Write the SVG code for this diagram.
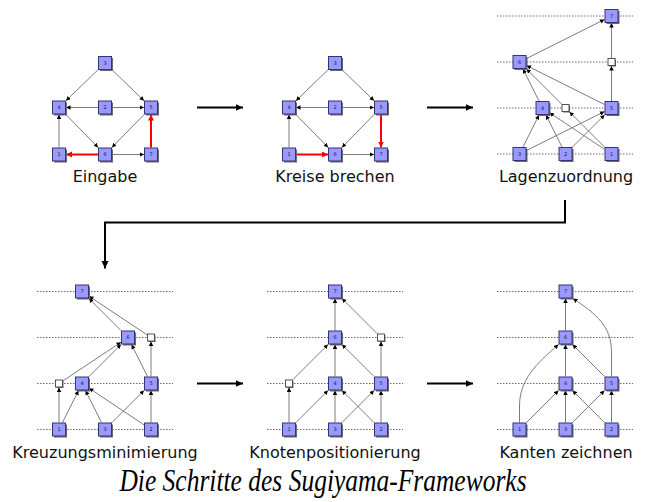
<svg xmlns="http://www.w3.org/2000/svg" width="646" height="502" viewBox="0 0 646 502">
  <style>
    .bg { fill: #ffffff; }
    .layer { stroke: #6a6a6a; stroke-width: 1; stroke-dasharray: 1.5 1.5; fill: none; }
    .e { stroke: #6e6e6e; stroke-width: 0.9; fill: none; marker-end: url(#ah); }
    .er { stroke: #ff0000; stroke-width: 2; fill: none; marker-end: url(#ahr); }
    .bigarrow { stroke: #000000; stroke-width: 2; fill: none; marker-end: url(#ahb); }
    .box { fill: #9999ff; stroke: #34346e; stroke-width: 1; }
    .shadow { fill: #6a6a6a; }
    .dummy { fill: #ffffff; stroke: #404040; stroke-width: 0.9; }
    .num { font-family: "DejaVu Sans", sans-serif; font-size: 5px; fill: #1a1a40; text-anchor: middle; }
    .label { font-family: "DejaVu Sans", sans-serif; font-size: 16px; fill: #111111; text-anchor: middle; }
    .title { font-family: "Liberation Serif", serif; font-style: italic; font-size: 25.5px; fill: #000000; text-anchor: middle; }
  </style>
  <defs>
    <marker id="ah" markerUnits="userSpaceOnUse" markerWidth="5" markerHeight="5" refX="4.5" refY="2.25" orient="auto">
      <path d="M0,0 L4.5,2.25 L0,4.5 z" fill="#000000"/>
    </marker>
    <marker id="ahr" markerUnits="userSpaceOnUse" markerWidth="7" markerHeight="7" refX="6" refY="3" orient="auto">
      <path d="M0,0 L6,3 L0,6 z" fill="#ff0000"/>
    </marker>
    <marker id="ahb" markerUnits="userSpaceOnUse" markerWidth="9" markerHeight="9" refX="7.5" refY="3.5" orient="auto">
      <path d="M0,0 L7.5,3.5 L0,7 z" fill="#000000"/>
    </marker>
    <g id="sq">
      <rect class="shadow" x="-5" y="-5" width="13" height="13"/>
      <rect class="box" x="-6.5" y="-6.5" width="13" height="13"/>
    </g>
    <g id="dm">
      <rect class="shadow" x="-2.5" y="-2.5" width="7" height="7"/>
      <rect class="dummy" x="-3.5" y="-3.5" width="7" height="7"/>
    </g>
  </defs>

  <rect class="bg" x="0" y="0" width="646" height="502"/>

  <!-- layer guide lines -->
  <g id="layers">
    <line class="layer" x1="497" y1="16" x2="633" y2="16"/>
    <line class="layer" x1="497" y1="62" x2="633" y2="62"/>
    <line class="layer" x1="497" y1="108" x2="633" y2="108"/>
    <line class="layer" x1="497" y1="154" x2="633" y2="154"/>
    <line class="layer" x1="37" y1="291.5" x2="173" y2="291.5"/>
    <line class="layer" x1="37" y1="337.5" x2="173" y2="337.5"/>
    <line class="layer" x1="37" y1="383.5" x2="173" y2="383.5"/>
    <line class="layer" x1="37" y1="429.5" x2="173" y2="429.5"/>
    <line class="layer" x1="267" y1="291.5" x2="403" y2="291.5"/>
    <line class="layer" x1="267" y1="337.5" x2="403" y2="337.5"/>
    <line class="layer" x1="267" y1="383.5" x2="403" y2="383.5"/>
    <line class="layer" x1="267" y1="429.5" x2="403" y2="429.5"/>
    <line class="layer" x1="497" y1="291.5" x2="633" y2="291.5"/>
    <line class="layer" x1="497" y1="337.5" x2="633" y2="337.5"/>
    <line class="layer" x1="497" y1="383.5" x2="633" y2="383.5"/>
    <line class="layer" x1="497" y1="429.5" x2="633" y2="429.5"/>
  </g>

  <!-- connectors -->
  <g id="connectors">
    <!-- step 1: input graph -->
    <line class="e" x1="98" y1="69.8" x2="66" y2="100.7"/>
    <line class="e" x1="112" y1="69.8" x2="144" y2="100.7"/>
    <line class="e" x1="98" y1="107.5" x2="66" y2="107.5"/>
    <line class="e" x1="112" y1="107.5" x2="144" y2="107.5"/>
    <line class="e" x1="65.9" y1="114.5" x2="98.1" y2="147.5"/>
    <line class="e" x1="144.1" y1="114.5" x2="111.9" y2="147.5"/>
    <line class="e" x1="59" y1="147.5" x2="59" y2="114.5"/>
    <line class="e" x1="112" y1="154.5" x2="144" y2="154.5"/>
    <line class="er" x1="98" y1="154.5" x2="66" y2="154.5"/>
    <line class="er" x1="151" y1="147.5" x2="151" y2="114.5"/>

    <!-- step 2: cycles broken -->
    <line class="e" x1="328" y1="69.8" x2="296" y2="100.7"/>
    <line class="e" x1="342" y1="69.8" x2="374" y2="100.7"/>
    <line class="e" x1="328" y1="107.5" x2="296" y2="107.5"/>
    <line class="e" x1="342" y1="107.5" x2="374" y2="107.5"/>
    <line class="e" x1="295.9" y1="114.5" x2="328.1" y2="147.5"/>
    <line class="e" x1="374.1" y1="114.5" x2="341.9" y2="147.5"/>
    <line class="e" x1="289" y1="147.5" x2="289" y2="114.5"/>
    <line class="e" x1="342" y1="154.5" x2="374" y2="154.5"/>
    <line class="er" x1="296" y1="154.5" x2="328" y2="154.5"/>
    <line class="er" x1="381" y1="114.5" x2="381" y2="147.5"/>

    <!-- step 3: layer assignment -->
    <line class="e" x1="526.5" y1="58.5" x2="604.5" y2="19.5"/>
    <line class="e" x1="611.5" y1="58" x2="611.5" y2="23"/>
    <line class="e" x1="611.5" y1="101" x2="611.5" y2="66"/>
    <line class="e" x1="539" y1="101" x2="523" y2="69"/>
    <line class="e" x1="561.5" y1="104" x2="526.5" y2="69"/>
    <line class="e" x1="604.5" y1="104.5" x2="526.5" y2="65.5"/>
    <line class="e" x1="604.5" y1="147" x2="569.5" y2="112"/>
    <line class="e" x1="523" y1="147" x2="539" y2="115"/>
    <line class="e" x1="562" y1="147" x2="546" y2="115"/>
    <line class="e" x1="604.5" y1="149.3" x2="549.5" y2="112.7"/>
    <line class="e" x1="526.5" y1="150.5" x2="604.5" y2="111.5"/>
    <line class="e" x1="572.5" y1="147" x2="604.5" y2="115"/>

    <!-- step 4: crossing minimisation -->
    <line class="e" x1="121" y1="330.5" x2="89" y2="298.5"/>
    <line class="e" x1="147" y1="334.8" x2="89" y2="296.2"/>
    <line class="e" x1="151" y1="376.5" x2="151" y2="341.5"/>
    <line class="e" x1="147.5" y1="376.5" x2="131.5" y2="344.5"/>
    <line class="e" x1="89" y1="376.5" x2="121" y2="344.5"/>
    <line class="e" x1="63" y1="380.8" x2="121" y2="342.2"/>
    <line class="e" x1="59" y1="422.5" x2="59" y2="387.5"/>
    <line class="e" x1="62.5" y1="422.5" x2="78.5" y2="390.5"/>
    <line class="e" x1="101.5" y1="422.5" x2="85.5" y2="390.5"/>
    <line class="e" x1="144" y1="424.8" x2="89" y2="388.2"/>
    <line class="e" x1="112" y1="422.5" x2="144" y2="390.5"/>
    <line class="e" x1="151" y1="422.5" x2="151" y2="390.5"/>

    <!-- step 5: node positioning -->
    <line class="e" x1="335" y1="330.5" x2="335" y2="298.5"/>
    <line class="e" x1="377" y1="333.5" x2="342" y2="298.5"/>
    <line class="e" x1="381" y1="376.5" x2="381" y2="341.5"/>
    <line class="e" x1="374" y1="376.5" x2="342" y2="344.5"/>
    <line class="e" x1="335" y1="376.5" x2="335" y2="344.5"/>
    <line class="e" x1="293" y1="379.5" x2="328" y2="344.5"/>
    <line class="e" x1="289" y1="422.5" x2="289" y2="387.5"/>
    <line class="e" x1="296" y1="422.5" x2="328" y2="390.5"/>
    <line class="e" x1="335" y1="422.5" x2="335" y2="390.5"/>
    <line class="e" x1="374" y1="422.5" x2="342" y2="390.5"/>
    <line class="e" x1="342" y1="422.5" x2="374" y2="390.5"/>
    <line class="e" x1="381" y1="422.5" x2="381" y2="390.5"/>

    <!-- step 6: edge drawing -->
    <line class="e" x1="565.5" y1="330.5" x2="565.5" y2="298.5"/>
    <path class="e" d="M611.5,376.5 L611.5,352 C611.5,326 596,314 573,298.5"/>
    <line class="e" x1="604.5" y1="376.5" x2="572.5" y2="344.5"/>
    <line class="e" x1="565.5" y1="376.5" x2="565.5" y2="344.5"/>
    <path class="e" d="M519.5,422.5 L519.5,406 C519.5,380 536,364 558.5,344.5"/>
    <line class="e" x1="526.5" y1="422.5" x2="558.5" y2="390.5"/>
    <line class="e" x1="565.5" y1="422.5" x2="565.5" y2="390.5"/>
    <line class="e" x1="604.5" y1="422.5" x2="572.5" y2="390.5"/>
    <line class="e" x1="572.5" y1="422.5" x2="604.5" y2="390.5"/>
    <line class="e" x1="611.5" y1="422.5" x2="611.5" y2="390.5"/>

    <!-- flow between steps -->
    <line class="bigarrow" x1="197" y1="107.5" x2="243" y2="107.5"/>
    <line class="bigarrow" x1="427" y1="107.5" x2="473" y2="107.5"/>
    <path class="bigarrow" d="M565,200 L565,222.5 L105,222.5 L105,268.5"/>
    <line class="bigarrow" x1="197" y1="383.5" x2="243" y2="383.5"/>
    <line class="bigarrow" x1="427" y1="383.5" x2="473" y2="383.5"/>
  </g>

  <!-- step 1 nodes -->
  <g id="s1-n3"><use href="#sq" x="105" y="63"/><text class="num" x="105" y="64.8">3</text></g>
  <g id="s1-n4"><use href="#sq" x="59" y="107.5"/><text class="num" x="59" y="109.3">4</text></g>
  <g id="s1-n2"><use href="#sq" x="105" y="107.5"/><text class="num" x="105" y="109.3">2</text></g>
  <g id="s1-n5"><use href="#sq" x="151" y="107.5"/><text class="num" x="151" y="109.3">5</text></g>
  <g id="s1-n1"><use href="#sq" x="59" y="154.5"/><text class="num" x="59" y="156.3">1</text></g>
  <g id="s1-n6"><use href="#sq" x="105" y="154.5"/><text class="num" x="105" y="156.3">6</text></g>
  <g id="s1-n7"><use href="#sq" x="151" y="154.5"/><text class="num" x="151" y="156.3">7</text></g>

  <!-- step 2 nodes -->
  <g id="s2-n3"><use href="#sq" x="335" y="63"/><text class="num" x="335" y="64.8">3</text></g>
  <g id="s2-n4"><use href="#sq" x="289" y="107.5"/><text class="num" x="289" y="109.3">4</text></g>
  <g id="s2-n2"><use href="#sq" x="335" y="107.5"/><text class="num" x="335" y="109.3">2</text></g>
  <g id="s2-n5"><use href="#sq" x="381" y="107.5"/><text class="num" x="381" y="109.3">5</text></g>
  <g id="s2-n1"><use href="#sq" x="289" y="154.5"/><text class="num" x="289" y="156.3">1</text></g>
  <g id="s2-n6"><use href="#sq" x="335" y="154.5"/><text class="num" x="335" y="156.3">6</text></g>
  <g id="s2-n7"><use href="#sq" x="381" y="154.5"/><text class="num" x="381" y="156.3">7</text></g>

  <!-- step 3 nodes -->
  <g id="s3-n7"><use href="#sq" x="611.5" y="16"/><text class="num" x="611.5" y="17.8">7</text></g>
  <g id="s3-n6"><use href="#sq" x="519.5" y="62"/><text class="num" x="519.5" y="63.8">6</text></g>
  <g id="s3-d1"><use href="#dm" x="611.5" y="62"/></g>
  <g id="s3-n4"><use href="#sq" x="542.5" y="108"/><text class="num" x="542.5" y="109.8">4</text></g>
  <g id="s3-d2"><use href="#dm" x="565.5" y="108"/></g>
  <g id="s3-n5"><use href="#sq" x="611.5" y="108"/><text class="num" x="611.5" y="109.8">5</text></g>
  <g id="s3-n3"><use href="#sq" x="519.5" y="154"/><text class="num" x="519.5" y="155.8">3</text></g>
  <g id="s3-n2"><use href="#sq" x="565.5" y="154"/><text class="num" x="565.5" y="155.8">2</text></g>
  <g id="s3-n1"><use href="#sq" x="611.5" y="154"/><text class="num" x="611.5" y="155.8">1</text></g>

  <!-- step 4 nodes -->
  <g id="s4-n7"><use href="#sq" x="82" y="291.5"/><text class="num" x="82" y="293.3">7</text></g>
  <g id="s4-n6"><use href="#sq" x="128" y="337.5"/><text class="num" x="128" y="339.3">6</text></g>
  <g id="s4-d1"><use href="#dm" x="151" y="337.5"/></g>
  <g id="s4-d2"><use href="#dm" x="59" y="383.5"/></g>
  <g id="s4-n4"><use href="#sq" x="82" y="383.5"/><text class="num" x="82" y="385.3">4</text></g>
  <g id="s4-n5"><use href="#sq" x="151" y="383.5"/><text class="num" x="151" y="385.3">5</text></g>
  <g id="s4-n1"><use href="#sq" x="59" y="429.5"/><text class="num" x="59" y="431.3">1</text></g>
  <g id="s4-n3"><use href="#sq" x="105" y="429.5"/><text class="num" x="105" y="431.3">3</text></g>
  <g id="s4-n2"><use href="#sq" x="151" y="429.5"/><text class="num" x="151" y="431.3">2</text></g>

  <!-- step 5 nodes -->
  <g id="s5-n7"><use href="#sq" x="335" y="291.5"/><text class="num" x="335" y="293.3">7</text></g>
  <g id="s5-n6"><use href="#sq" x="335" y="337.5"/><text class="num" x="335" y="339.3">6</text></g>
  <g id="s5-d1"><use href="#dm" x="381" y="337.5"/></g>
  <g id="s5-d2"><use href="#dm" x="289" y="383.5"/></g>
  <g id="s5-n4"><use href="#sq" x="335" y="383.5"/><text class="num" x="335" y="385.3">4</text></g>
  <g id="s5-n5"><use href="#sq" x="381" y="383.5"/><text class="num" x="381" y="385.3">5</text></g>
  <g id="s5-n1"><use href="#sq" x="289" y="429.5"/><text class="num" x="289" y="431.3">1</text></g>
  <g id="s5-n3"><use href="#sq" x="335" y="429.5"/><text class="num" x="335" y="431.3">3</text></g>
  <g id="s5-n2"><use href="#sq" x="381" y="429.5"/><text class="num" x="381" y="431.3">2</text></g>

  <!-- step 6 nodes -->
  <g id="s6-n7"><use href="#sq" x="565.5" y="291.5"/><text class="num" x="565.5" y="293.3">7</text></g>
  <g id="s6-n6"><use href="#sq" x="565.5" y="337.5"/><text class="num" x="565.5" y="339.3">6</text></g>
  <g id="s6-n4"><use href="#sq" x="565.5" y="383.5"/><text class="num" x="565.5" y="385.3">4</text></g>
  <g id="s6-n5"><use href="#sq" x="611.5" y="383.5"/><text class="num" x="611.5" y="385.3">5</text></g>
  <g id="s6-n1"><use href="#sq" x="519.5" y="429.5"/><text class="num" x="519.5" y="431.3">1</text></g>
  <g id="s6-n3"><use href="#sq" x="565.5" y="429.5"/><text class="num" x="565.5" y="431.3">3</text></g>
  <g id="s6-n2"><use href="#sq" x="611.5" y="429.5"/><text class="num" x="611.5" y="431.3">2</text></g>

  <!-- step captions -->
  <g id="captions">
    <text class="label" x="105" y="182">Eingabe</text>
    <text class="label" x="335" y="182">Kreise brechen</text>
    <text class="label" x="566" y="182">Lagenzuordnung</text>
    <text class="label" x="105" y="458">Kreuzungsminimierung</text>
    <text class="label" x="335" y="458">Knotenpositionierung</text>
    <text class="label" x="566" y="458">Kanten zeichnen</text>
  </g>
  <text class="title" transform="translate(323,491) scale(1,1.22)" x="0" y="0">Die Schritte des Sugiyama-Frameworks</text>
</svg>
